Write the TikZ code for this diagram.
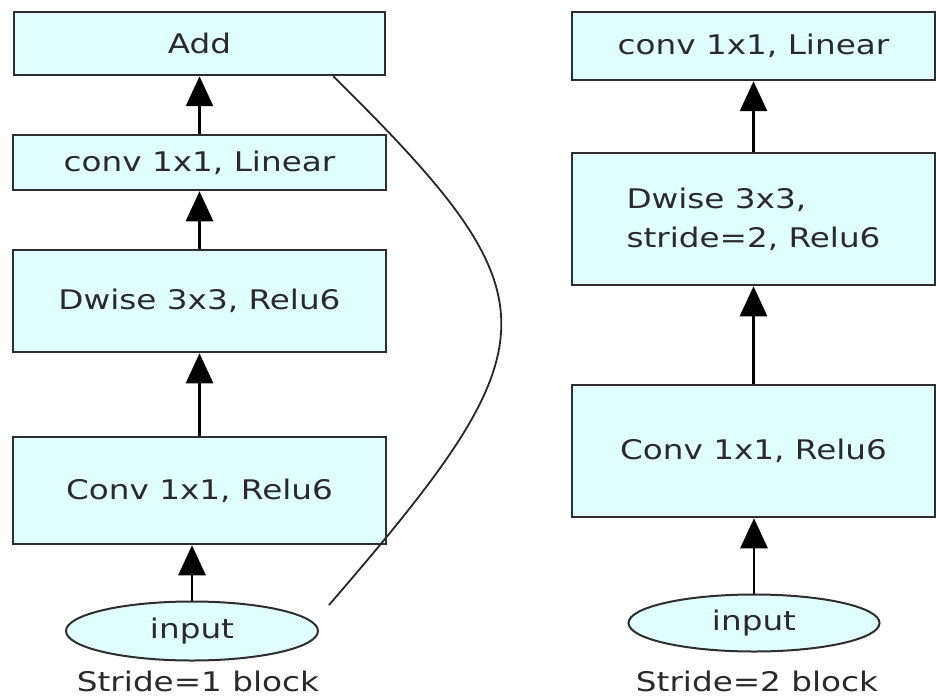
\documentclass[tikz,border=0pt]{standalone}
\usepackage{fontspec}
\setmainfont{DejaVu Sans}[FakeStretch=1.21]
\usetikzlibrary{arrows.meta,shapes.geometric}
\definecolor{boxfill}{HTML}{E0FFFF}
\definecolor{edge}{HTML}{2E2E2E}
\definecolor{txt}{HTML}{2A2A2A}
\tikzset{
  blk/.style={draw=edge, fill=boxfill, line width=2.5pt, rectangle, inner sep=0pt,
    text=txt, font=\fontsize{27}{39}\selectfont},
  inp/.style={draw=edge, fill=boxfill, line width=2pt, ellipse, inner sep=0pt,
    text=txt, font=\fontsize{27}{30}\selectfont},
  captiontxt/.style={text=txt, font=\fontsize{27}{30}\selectfont, inner sep=0pt},
  flow/.style={draw=black, line width=2.8pt, -{Triangle[width=27pt,length=30pt]}},
  skip/.style={draw=black!85, line width=1.8pt}
}
\begin{document}
\begin{tikzpicture}[x=1pt,y=-1pt]
\useasboundingbox (0,0) rectangle (936,698);
% left column
\node[blk, minimum width=371pt, minimum height=63pt] (add) at (199.5,43.5) {Add};
\node[blk, minimum width=373pt, minimum height=55pt] (linL) at (199.5,162.5) {conv 1x1, Linear};
\node[blk, minimum width=373pt, minimum height=102pt] (dwL) at (199.5,301) {Dwise 3x3, Relu6};
\node[blk, minimum width=373pt, minimum height=107pt] (convL) at (199.5,490.5) {Conv 1x1, Relu6};
\node[inp, minimum width=252pt, minimum height=59pt] (inL) at (192,631) {input};
\node[captiontxt] (capL) at (198,681) {Stride=1 block};
% right column
\node[blk, minimum width=363pt, minimum height=68pt] (linR) at (753.5,46) {conv 1x1, Linear};
\node[blk, minimum width=363pt, minimum height=132pt, align=left] (dwR) at (753.5,219) {Dwise 3x3,\\stride=2, Relu6};
\node[blk, minimum width=363pt, minimum height=132pt] (convR) at (753.5,451) {Conv 1x1, Relu6};
\node[inp, minimum width=251pt, minimum height=57pt] (inR) at (754,623) {input};
\node[captiontxt] (capR) at (757,681) {Stride=2 block};
% arrows left
\draw[flow] (linL.north) -- (add.south);
\draw[flow] (dwL.north) -- (linL.south);
\draw[flow] (convL.north) -- (dwL.south);
\draw[flow] (inL.north) -- (inL.north |- convL.south);
% arrows right
\draw[flow] (dwR.north) -- (linR.south);
\draw[flow] (convR.north) -- (dwR.south);
\draw[flow] (inR.north) -- (inR.north |- convR.south);
% skip connection
\coordinate (sk) at (329,605);
\coordinate (ske) at ([xshift=-53pt]add.south east);
\draw[skip] (sk) .. controls (556,342) and (560,300) .. (ske);
\end{tikzpicture}
\end{document}
